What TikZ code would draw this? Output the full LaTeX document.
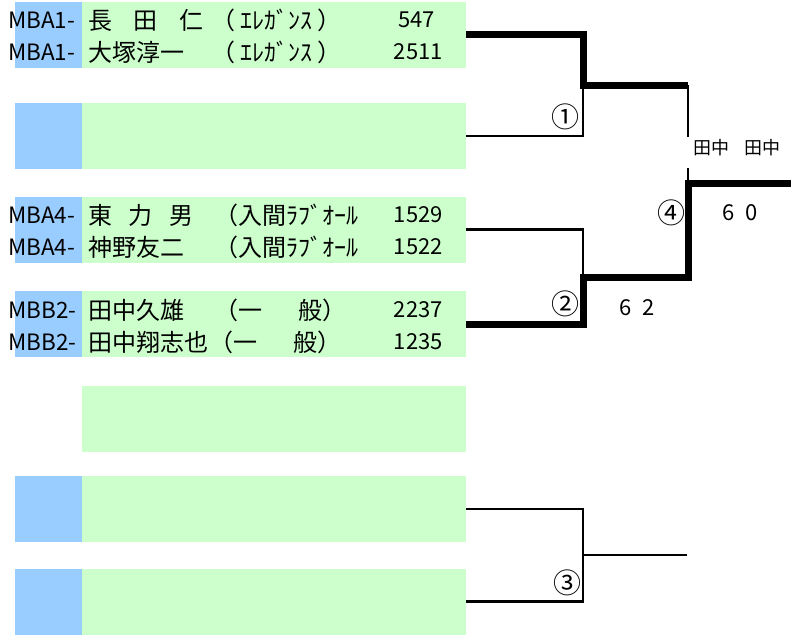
\documentclass[tikz,border=0pt]{standalone}
\usepackage{fontspec}
\newfontfamily\jpfont{Noto Sans CJK JP}
\usetikzlibrary{positioning}
\definecolor{colorentry}{HTML}{CCFFCC}
\definecolor{colorseed}{HTML}{99CCFF}
\tikzstyle{entry}=[rectangle, fill=colorentry, inner sep=0pt, minimum width=384pt, minimum height=66pt]
\tikzstyle{seed}=[rectangle, fill=colorseed, inner sep=0pt, minimum width=67pt, minimum height=66pt]
\tikzstyle{code}=[anchor=west, inner sep=0pt, font=\jpfont\fontsize{22.5}{22}\selectfont]
\tikzstyle{player}=[anchor=west, inner sep=0pt, font=\jpfont\fontsize{24}{24}\selectfont]
\tikzstyle{club}=[anchor=west, inner sep=0pt, font=\jpfont\fontsize{24}{24}\selectfont]
\tikzstyle{rating}=[anchor=east, inner sep=0pt, font=\jpfont\fontsize{22}{22}\selectfont]
\tikzstyle{match}=[inner sep=0pt, font=\jpfont\fontsize{28}{28}\selectfont]
\tikzstyle{score}=[inner sep=0pt, font=\jpfont\fontsize{22}{22}\selectfont]
\tikzstyle{winner}=[inner sep=0pt, font=\jpfont\fontsize{18}{18}\selectfont]
\tikzstyle{won}=[line width=7pt]
\tikzstyle{lost}=[line width=2.5pt]
\newcommand{\gap}[1]{\hspace{#1em}}

\begin{document}
\begin{tikzpicture}[x=1pt, y=-1pt]
	\useasboundingbox (0, 0) rectangle (791, 634);
	
	\node[entry] at (274, 35) (g1) {};
	\node[seed] at (48.5, 35) (s1) {};
	
	\node[entry] at (274, 136) (g2) {};
	\node[seed] at (48.5, 136) (s2) {};
	
	\node[entry] at (274, 229.5) (g3) {};
	\node[seed] at (48.5, 229.5) (s3) {};
	
	\node[entry] at (274, 324) (g4) {};
	\node[seed] at (48.5, 324) (s4) {};
	
	\node[entry] at (274, 418.5) (g5) {};
	
	\node[entry] at (274, 509) (g6) {};
	\node[seed] at (48.5, 509) (s6) {};
	
	\node[entry] at (274, 601.5) (g7) {};
	\node[seed] at (48.5, 601.5) (s7) {};
	
	% players
	\node[code] at (8, 20) (c1) {MBA1-};
	\node[player] at (88, 20) (n1) {長\gap{.9}田\gap{.9}仁};
	\node[club] at (211, 20) (k1) {（ ｴﾚｶﾞﾝｽ ）};
	\node[rating] at (435, 20) (p1) {547};
	
	\node[code] at (8, 52) (c2) {MBA1-};
	\node[player] at (88, 52) (n2) {大塚淳一};
	\node[club] at (211, 52) (k2) {（ ｴﾚｶﾞﾝｽ ）};
	\node[rating] at (443, 52) (p2) {2511};
	
	\node[code] at (8, 215) (c3) {MBA4-};
	\node[player] at (88, 215) (n3) {東\gap{.7}力\gap{.7}男};
	\node[club] at (214, 215) (k3) {（入間ﾗﾌﾞｵｰﾙ};
	\node[rating] at (443, 215) (p3) {1529};
	
	\node[code] at (8, 247) (c4) {MBA4-};
	\node[player] at (88, 247) (n4) {神野友二};
	\node[club] at (214, 247) (k4) {（入間ﾗﾌﾞｵｰﾙ};
	\node[rating] at (443, 247) (p4) {1522};
	
	\node[code] at (8, 310) (c5) {MBB2-};
	\node[player] at (88, 310) (n5) {田中久雄};
	\node[club] at (214, 310) (k5) {（一\gap{1.5}般）};
	\node[rating] at (443, 310) (p5) {2237};
	
	\node[code] at (8, 342) (c6) {MBB2-};
	\node[player] at (88, 342) (n6) {田中翔志也};
	\node[club] at (209, 342) (k6) {（一\gap{1.5}般）};
	\node[rating] at (443, 342) (p6) {1235};
	
	% bracket
	\coordinate (m1) at (583, 85);
	\coordinate (m2) at (583, 277);
	\coordinate (m3) at (583, 555);
	\coordinate (r1) at (688, 85);
	\coordinate (r2) at (688, 277);
	\coordinate (t4) at (688, 137);
	\coordinate (b4) at (688, 168);
	\coordinate (w4) at (688, 183);
	\coordinate (o3) at (687, 555);
	\coordinate (fin) at (791, 183);
	
	\draw[lost] (g2.east) -| (m1);
	\draw[won] (g1.east) -| (m1) -- (r1);
	\draw[lost] (r1) -- (t4);
	\draw[lost] (b4) -- (w4);
	
	\draw[lost] (g3.east) -| (m2);
	\draw[won] (g4.east) -| (m2) -- (r2) -- (w4) -- (fin);
	
	\draw[lost] (g6.east) -| (m3);
	\draw[lost] (g7.east) -| (m3);
	\draw[lost] (m3) -- (o3);
	
	\node[match] at (565, 117) (q1) {①};
	\node[match] at (565, 304) (q2) {②};
	\node[match] at (567, 583) (q3) {③};
	\node[match] at (671, 213) (q4) {④};
	
	\node[score] at (637, 308) (sc2) {6\gap{.5}2};
	\node[score] at (740, 213) (sc4) {6\gap{.5}0};
	\node[winner] at (737, 148) (win) {田中\gap{.8}田中};
	
\end{tikzpicture}
\end{document}
